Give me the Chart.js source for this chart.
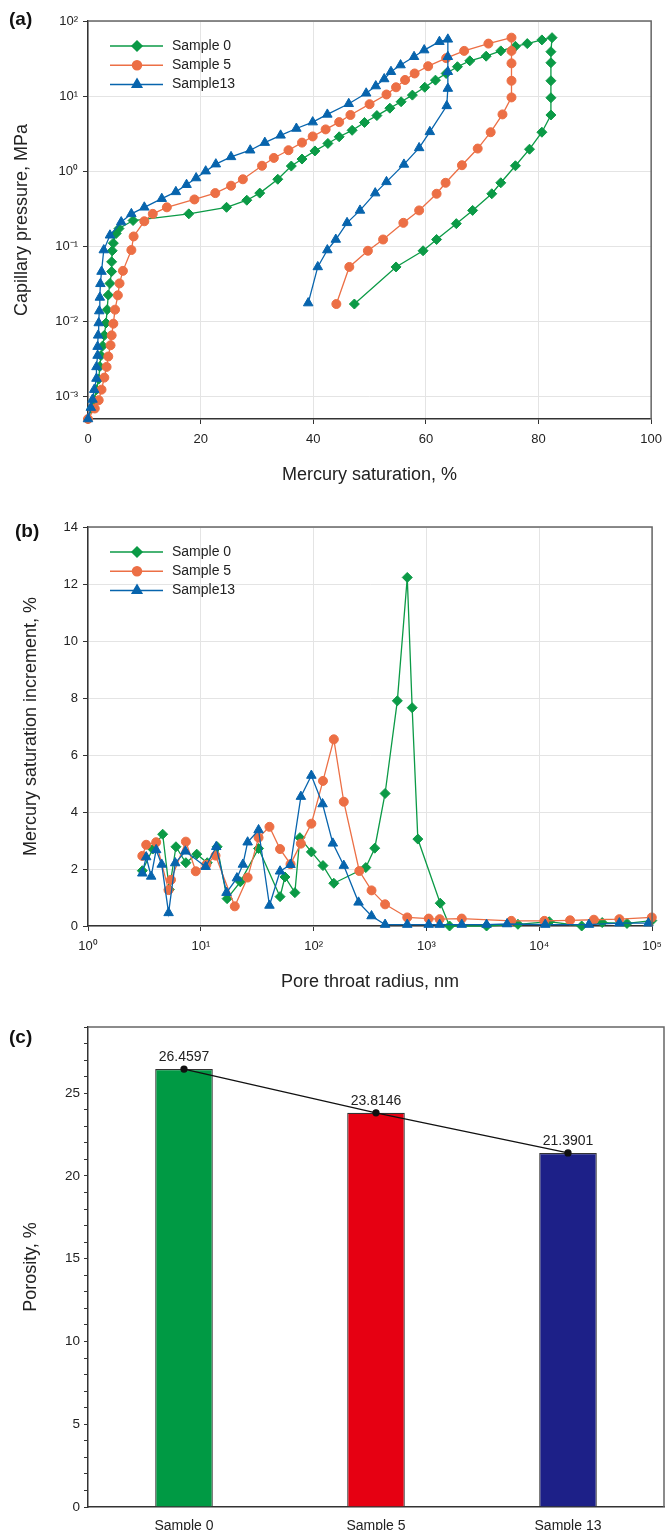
<!DOCTYPE html>
<html>
<head>
<meta charset="utf-8">
<script src="https://cdn.jsdelivr.net/npm/chart.js@4.4.1/dist/chart.umd.min.js"></script>
<style>
  body { margin: 0; background: #fff; }
  #wrap { position: relative; width: 670px; height: 1530px; }
  canvas { position: absolute; left: 0; }
</style>
</head>
<body>
<div id="wrap">
  <canvas id="chartA" width="670" height="500" style="top:0px"></canvas>
  <canvas id="chartB" width="670" height="500" style="top:500px"></canvas>
  <canvas id="chartC" width="670" height="530" style="top:1000px"></canvas>
</div>
<script>
// (a) capillary pressure curves: saturation %, pressure MPa (intrusion then extrusion)
const sat0 = [0, 0.7, 1.1, 1.5, 1.9, 2.1, 2.3, 2.6, 2.9, 3.2, 3.4, 3.6, 3.9, 4.2, 4.2, 4.3, 4.5, 5.0, 5.5, 8.0, 17.9, 24.6, 28.2, 30.5, 33.7, 36.1, 38.0, 40.3, 42.6, 44.6, 46.9, 49.1, 51.3, 53.6, 55.6, 57.6, 59.8, 61.7, 63.6, 65.6, 67.8, 70.7, 73.3, 75.9, 78.0, 80.6, 82.4,
  82.2, 82.2, 82.2, 82.2, 82.2, 80.6, 78.4, 75.9, 73.3, 71.7, 68.3, 65.4, 61.9, 59.5, 54.7, 47.3];
const pc0 = [0.0005, 0.0007, 0.0009, 0.00123, 0.0017, 0.0025, 0.0035, 0.0047, 0.0065, 0.0095, 0.0143, 0.0224, 0.032, 0.046, 0.062, 0.087, 0.11, 0.148, 0.172, 0.22, 0.27, 0.33, 0.41, 0.51, 0.78, 1.17, 1.45, 1.86, 2.34, 2.87, 3.5, 4.45, 5.5, 6.9, 8.4, 10.3, 13.1, 16.3, 20, 24.6, 29.5, 34, 40, 46, 50, 56, 60,
  39, 27.8, 16, 9.5, 5.6, 3.3, 1.96, 1.18, 0.70, 0.50, 0.30, 0.20, 0.123, 0.087, 0.053, 0.017];

const sat5 = [0, 1.2, 1.9, 2.4, 2.9, 3.3, 3.6, 4.0, 4.2, 4.5, 4.8, 5.3, 5.6, 6.2, 7.7, 8.1, 10.0, 11.5, 14.0, 18.9, 22.6, 25.4, 27.5, 30.9, 33.0, 35.6, 38.0, 39.9, 42.2, 44.6, 46.6, 50.0, 53.0, 54.7, 56.3, 58.0, 60.4, 63.6, 66.8, 71.1, 75.2,
  75.2, 75.2, 75.2, 75.2, 73.6, 71.5, 69.2, 66.4, 63.5, 61.9, 58.8, 56.0, 52.4, 49.7, 46.4, 44.1];
const pc5 = [0.0005, 0.00069, 0.00089, 0.00123, 0.00178, 0.00247, 0.0034, 0.0048, 0.0065, 0.0093, 0.0143, 0.0222, 0.032, 0.047, 0.089, 0.135, 0.215, 0.27, 0.33, 0.42, 0.51, 0.64, 0.78, 1.18, 1.5, 1.9, 2.4, 2.9, 3.6, 4.5, 5.6, 7.8, 10.5, 13.1, 16.4, 20, 25, 32, 40, 50, 60,
  40, 27.3, 16, 9.6, 5.7, 3.3, 2.0, 1.2, 0.70, 0.50, 0.30, 0.205, 0.123, 0.087, 0.053, 0.017];

const sat13 = [0, 0.5, 0.8, 1.1, 1.5, 1.5, 1.7, 1.7, 1.8, 1.9, 2.0, 2.1, 2.2, 2.4, 2.8, 3.9, 5.9, 7.7, 10.0, 13.1, 15.6, 17.5, 19.2, 20.9, 22.7, 25.4, 28.8, 31.4, 34.2, 37.0, 39.9, 42.5, 46.3, 49.4, 51.1, 52.6, 53.8, 55.5, 57.9, 59.7, 62.4, 63.9,
  63.9, 63.9, 63.9, 63.7, 60.7, 58.8, 56.1, 53.0, 51.0, 48.3, 46.0, 44.0, 42.5, 40.8, 39.1];
const pc13 = [0.0005, 0.00071, 0.00091, 0.00123, 0.00173, 0.00247, 0.0035, 0.0046, 0.0065, 0.0095, 0.0137, 0.0208, 0.0316, 0.046, 0.089, 0.14, 0.21, 0.27, 0.33, 0.43, 0.53, 0.66, 0.81, 1.0, 1.24, 1.55, 1.9, 2.4, 3.0, 3.7, 4.5, 5.7, 7.9, 10.9, 13.6, 16.9, 21.1, 25.9, 33.4, 41, 53, 57,
  33.4, 21.1, 12.6, 7.4, 3.34, 2.04, 1.23, 0.72, 0.51, 0.30, 0.205, 0.123, 0.089, 0.053, 0.0175];

// (b) pore throat radius nm vs saturation increment %
const rad0 = [3.03, 3.75, 4.59, 5.26, 6.02, 7.37, 9.2, 11.4, 13.96, 17.1, 22.4, 32.5, 50.4, 55.7, 68.2, 75.5, 95.5, 121, 151, 290, 348, 430, 552, 676, 747, 839, 1325, 1603, 3410, 6470, 12270, 23770, 36130, 59950, 99400];
const inc0 = [1.94, 2.7, 3.22, 1.28, 2.78, 2.22, 2.52, 2.22, 2.78, 0.96, 1.55, 2.72, 1.03, 1.72, 1.17, 3.1, 2.6, 2.12, 1.5, 2.05, 2.73, 4.65, 7.9, 12.23, 7.66, 3.05, 0.8, 0, 0, 0.06, 0.15, 0, 0.12, 0.09, 0.19];

const rad5 = [3.03, 3.28, 4.02, 5.18, 5.44, 7.37, 9.02, 11.2, 13.5, 20.0, 26.0, 32.5, 40.6, 50.4, 62.4, 77.1, 95.5, 121, 151, 185, 254, 326, 430, 676, 1047, 1309, 2056, 5650, 11100, 18760, 30490, 51290, 99400];
const inc5 = [2.46, 2.85, 2.94, 1.26, 1.62, 2.96, 1.92, 2.15, 2.47, 0.69, 1.7, 3.1, 3.48, 2.7, 2.17, 2.89, 3.59, 5.09, 6.55, 4.36, 1.93, 1.25, 0.76, 0.3, 0.26, 0.24, 0.26, 0.18, 0.18, 0.2, 0.22, 0.24, 0.3];

const rad13 = [3.03, 3.28, 3.63, 4.02, 4.5, 5.18, 5.93, 7.3, 11.04, 13.7, 16.9, 20.9, 23.6, 26.0, 32.5, 40.6, 50.4, 62.4, 77.1, 95.5, 120, 148, 185, 250, 326, 430, 676, 1047, 1309, 2056, 3410, 5180, 11300, 27560, 51290, 92770];
const inc13 = [1.85, 2.42, 1.74, 2.67, 2.16, 0.46, 2.21, 2.62, 2.08, 2.78, 1.17, 1.68, 2.16, 2.94, 3.37, 0.72, 1.92, 2.15, 4.54, 5.28, 4.28, 2.9, 2.12, 0.83, 0.35, 0.05, 0.05, 0.05, 0.05, 0.05, 0.05, 0.07, 0.05, 0.05, 0.1, 0.1];

// (c) porosity
const sampleNames = ["Sample 0", "Sample 5", "Sample 13"];
const porosity = [26.4597, 23.8146, 21.3901];

const pcTicks = [1e-3, 1e-2, 1e-1, 1, 10, 100];
const radTicks = [1, 10, 100, 1000, 10000, 100000];

const green = "#0b9a46";
const orange = "#ec6f45";
const blue = "#0764ad";
const fontFam = "'Liberation Sans', Arial, Helvetica, sans-serif";

Chart.defaults.font.family = fontFam;
Chart.defaults.color = "#222";
Chart.defaults.animation = false;
Chart.defaults.events = [];

const pts = (xs, ys) => xs.map((x, i) => ({ x: x, y: ys[i] }));
const supMap = { "0": "\u2070", "1": "\u00b9", "2": "\u00b2", "3": "\u00b3", "4": "\u2074", "5": "\u2075", "-": "\u207b" };
const powLabel = (v) => "10" + String(Math.round(Math.log10(v))).split("").map((c) => supMap[c]).join("");

// axis titles, panel tag, top/right frame and an inline legend
function decor(cfg) {
  return {
    id: "decor",
    afterDraw(chart) {
      const ctx = chart.ctx;
      const a = chart.chartArea;
      ctx.save();
      ctx.strokeStyle = "#666";
      ctx.lineWidth = 1.5;
      ctx.beginPath();
      ctx.moveTo(a.left, a.top);
      ctx.lineTo(a.right, a.top);
      ctx.lineTo(a.right, a.bottom);
      ctx.stroke();

      ctx.fillStyle = "#111";
      ctx.font = "bold 19px " + fontFam;
      ctx.textAlign = "left";
      ctx.textBaseline = "middle";
      ctx.fillText(cfg.tag, cfg.tagX, cfg.tagY);

      ctx.fillStyle = "#222";
      ctx.font = "18px " + fontFam;
      ctx.textAlign = "center";
      if (cfg.xTitle) ctx.fillText(cfg.xTitle, (a.left + a.right) / 2, cfg.xTitleY);
      ctx.save();
      ctx.translate(cfg.yTitleX, (a.top + a.bottom) / 2);
      ctx.rotate(-Math.PI / 2);
      ctx.fillText(cfg.yTitle, 0, 0);
      ctx.restore();

      if (cfg.legend) {
        ctx.font = "14px " + fontFam;
        ctx.textAlign = "left";
        chart.data.datasets.forEach((ds, i) => {
          const y = a.top + 25 + i * 19.2;
          ctx.strokeStyle = ds.borderColor;
          ctx.fillStyle = ds.borderColor;
          ctx.lineWidth = 1.5;
          ctx.beginPath();
          ctx.moveTo(a.left + 22, y);
          ctx.lineTo(a.left + 75, y);
          ctx.stroke();
          Chart.helpers.drawPoint(ctx, { pointStyle: ds.pointStyle, rotation: 0, radius: ds.pointRadius, borderWidth: 1 }, a.left + 49, y);
          ctx.fillStyle = "#222";
          ctx.fillText(ds.label, a.left + 84, y);
        });
      }
      ctx.restore();
    },
  };
}

function seriesSet(label, data, color, style, radius, order) {
  return {
    label: label,
    data: data,
    borderColor: color,
    backgroundColor: color,
    pointBackgroundColor: color,
    pointBorderColor: color,
    pointStyle: style,
    pointRadius: radius,
    pointBorderWidth: 1,
    borderWidth: 1.3,
    showLine: true,
    tension: 0,
    clip: false,
    order: order,
  };
}

const gridStyle = { color: "#e4e4e4", lineWidth: 1, tickColor: "#333", tickLength: 5 };
const borderStyle = { color: "#333", width: 1.5 };

new Chart(document.getElementById("chartA").getContext("2d"), {
  type: "scatter",
  data: {
    datasets: [
      seriesSet("Sample 0", pts(sat0, pc0), green, "rectRot", 5, 3),
      seriesSet("Sample 5", pts(sat5, pc5), orange, "circle", 4.5, 2),
      seriesSet("Sample13", pts(sat13, pc13), blue, "triangle", 5.5, 1),
    ],
  },
  options: {
    responsive: false,
    layout: { padding: { left: 0, top: 21, right: 13, bottom: 0 } },
    plugins: { legend: { display: false }, tooltip: { enabled: false } },
    scales: {
      x: {
        type: "linear", min: 0, max: 100,
        ticks: { stepSize: 20, font: { size: 13 }, color: "#222", padding: 8 },
        grid: gridStyle, border: borderStyle,
        afterFit: (s) => { s.height = 81; },
      },
      y: {
        type: "logarithmic", min: 0.0005, max: 100,
        afterBuildTicks: (s) => { s.ticks = pcTicks.map((v) => ({ value: v })); },
        ticks: { callback: (v) => powLabel(v), font: { size: 13 }, color: "#222", padding: 5 },
        grid: gridStyle, border: borderStyle,
        afterFit: (s) => { s.width = 88; },
      },
    },
  },
  plugins: [decor({ tag: "(a)", tagX: 9, tagY: 20, xTitle: "Mercury saturation, %", xTitleY: 475, yTitle: "Capillary pressure, MPa", yTitleX: 22, legend: true })],
});

new Chart(document.getElementById("chartB").getContext("2d"), {
  type: "scatter",
  data: {
    datasets: [
      seriesSet("Sample 0", pts(rad0, inc0), green, "rectRot", 5, 3),
      seriesSet("Sample 5", pts(rad5, inc5), orange, "circle", 4.5, 2),
      seriesSet("Sample13", pts(rad13, inc13), blue, "triangle", 5.5, 1),
    ],
  },
  options: {
    responsive: false,
    layout: { padding: { left: 0, top: 27, right: 13, bottom: 0 } },
    plugins: { legend: { display: false }, tooltip: { enabled: false } },
    scales: {
      x: {
        type: "logarithmic", min: 1, max: 100000,
        afterBuildTicks: (s) => { s.ticks = radTicks.map((v) => ({ value: v })); },
        ticks: { callback: (v) => powLabel(v), font: { size: 13 }, color: "#222", padding: 8 },
        grid: gridStyle, border: borderStyle,
        afterFit: (s) => { s.height = 74; },
      },
      y: {
        type: "linear", min: 0, max: 14,
        ticks: { stepSize: 2, font: { size: 13 }, color: "#222", padding: 5 },
        grid: gridStyle, border: borderStyle,
        afterFit: (s) => { s.width = 88; },
      },
    },
  },
  plugins: [decor({ tag: "(b)", tagX: 15, tagY: 32, xTitle: "Pore throat radius, nm", xTitleY: 482, yTitle: "Mercury saturation increment, %", yTitleX: 31, legend: true })],
});

const valueLabels = {
  id: "valueLabels",
  afterDatasetsDraw(chart) {
    const ctx = chart.ctx;
    const meta = chart.getDatasetMeta(1);
    ctx.save();
    ctx.font = "14px " + fontFam;
    ctx.fillStyle = "#222";
    ctx.textAlign = "center";
    ctx.textBaseline = "middle";
    meta.data.forEach((el, i) => {
      ctx.fillText(String(porosity[i]), el.x, el.y - 12);
    });
    ctx.restore();
  },
};

new Chart(document.getElementById("chartC").getContext("2d"), {
  type: "bar",
  data: {
    labels: sampleNames,
    datasets: [
      {
        label: "Porosity",
        data: porosity,
        backgroundColor: ["#009a44", "#e60012", "#1d2088"],
        borderColor: "#333",
        borderWidth: 1.2,
        barPercentage: 0.3,
        categoryPercentage: 1,
        order: 2,
      },
      {
        type: "line",
        label: "Trend",
        data: porosity,
        borderColor: "#111",
        borderWidth: 1.3,
        pointRadius: 3,
        pointBackgroundColor: "#111",
        pointBorderColor: "#111",
        tension: 0,
        order: 1,
      },
    ],
  },
  options: {
    responsive: false,
    layout: { padding: { left: 0, top: 27, right: 6, bottom: 0 } },
    plugins: { legend: { display: false }, tooltip: { enabled: false } },
    scales: {
      x: {
        grid: { display: false },
        border: borderStyle,
        ticks: { font: { size: 14 }, color: "#222", padding: 3 },
        afterFit: (s) => { s.height = 23; },
      },
      y: {
        min: 0, max: 29,
        ticks: { stepSize: 1, autoSkip: false, callback: (v) => (v % 5 === 0 ? v : ""), font: { size: 13.5 }, color: "#222", padding: 4 },
        grid: { drawOnChartArea: false, tickColor: "#333", tickLength: 4 },
        border: borderStyle,
        afterFit: (s) => { s.width = 88; },
      },
    },
  },
  plugins: [valueLabels, decor({ tag: "(c)", tagX: 9, tagY: 38, yTitle: "Porosity, %", yTitleX: 31 })],
});
</script>
</body>
</html>
